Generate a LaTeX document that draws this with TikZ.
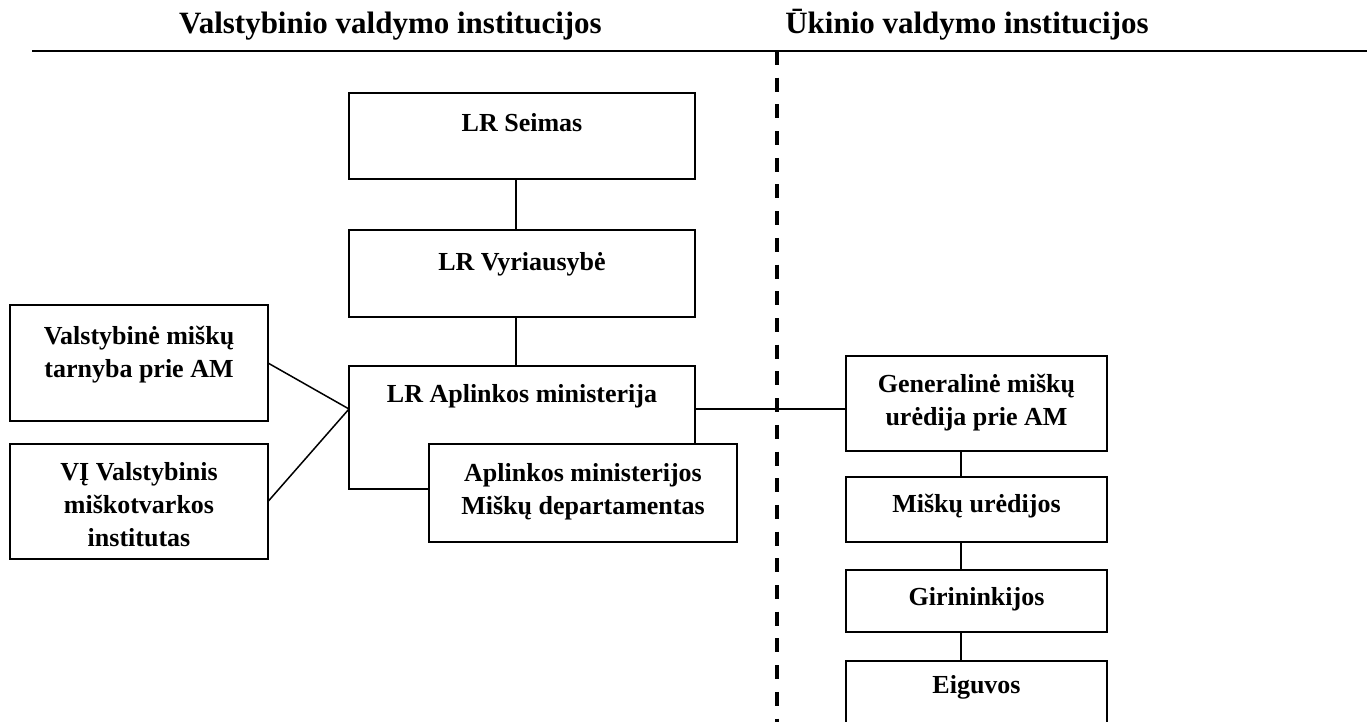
\documentclass[tikz,border=0pt]{standalone}
\usepackage{fontspec}
\setmainfont{Liberation Serif}
\begin{document}
\begin{tikzpicture}[x=1pt,y=-1pt,
  box/.style={draw, line width=2pt, fill=white, inner sep=0pt, outer sep=0pt},
  lbl/.style={font=\bfseries\fontsize{26}{33}\selectfont, align=center, anchor=base, inner sep=0pt},
  head/.style={font=\bfseries\fontsize{31}{36}\selectfont, anchor=base, inner sep=0pt},
  conn/.style={line width=1.5pt},
]
\useasboundingbox (0,0) rectangle (1367,722);
\clip (0,0) rectangle (1367,722);

% headers
\node[head] (h1) at (390.5,34) {Valstybinio valdymo institucijos};
\node[head] (h2) at (967,34) {Ūkinio valdymo institucijos};
\draw[line width=2pt] (32,50.7) -- (1367,50.7);
\draw[line width=3.3pt, dash pattern=on 14pt off 12.7pt] (777,51) -- (777,722);

% left column boxes
\node[box, minimum width=346, minimum height=86] (seimas) at (522,136) {};
\node[box, minimum width=346, minimum height=87] (vyr) at (522,273.5) {};
\node[box, minimum width=346, minimum height=123] (am) at (522,427.5) {};
\node[box, minimum width=308, minimum height=98] (dept) at (583,493) {};
\node[box, minimum width=258, minimum height=116] (vmt) at (139,363) {};
\node[box, minimum width=258, minimum height=115] (vmi) at (139,501.5) {};

% right column boxes
\node[box, minimum width=261, minimum height=95] (gmu) at (976.5,403.5) {};
\node[box, minimum width=261, minimum height=65] (mu) at (976.5,509.5) {};
\node[box, minimum width=261, minimum height=62] (gir) at (976.5,601) {};
\node[box, minimum width=261, minimum height=74] (eig) at (976.5,698) {};

% labels (multi-line: anchor is the baseline of the last line)
\node[lbl] (tseimas) at (522,132) {LR Seimas};
\node[lbl] (tvyr) at (522,270) {LR Vyriausybė};
\node[lbl] (tam) at (522,402) {LR Aplinkos ministerija};
\node[lbl] (tdept) at (583,514) {Aplinkos ministerijos\\Miškų departamentas};
\node[lbl] (tvmt) at (139,377) {Valstybinė miškų\\tarnyba prie AM};
\node[lbl] (tvmi) at (139,546) {VĮ Valstybinis\\miškotvarkos\\institutas};
\node[lbl] (tgmu) at (976.5,425) {Generalinė miškų\\urėdija prie AM};
\node[lbl] (tmu) at (976.5,512) {Miškų urėdijos};
\node[lbl] (tgir) at (976.5,605) {Girininkijos};
\node[lbl] (teig) at (976.5,693) {Eiguvos};

% connectors
\coordinate (lc) at (516,0);
\coordinate (rc) at (961,0);
\coordinate (hy) at (0,409);
\draw[conn] (seimas.south -| lc) -- (vyr.north -| lc);
\draw[conn] (vyr.south -| lc) -- (am.north -| lc);
\draw[conn] (am.east |- hy) -- (gmu.west |- hy);
\draw[conn] (vmt.east) -- (am.west |- hy);
\draw[conn] (vmi.east) -- (am.west |- hy);
\draw[conn] (gmu.south -| rc) -- (mu.north -| rc);
\draw[conn] (mu.south -| rc) -- (gir.north -| rc);
\draw[conn] (gir.south -| rc) -- (eig.north -| rc);
\end{tikzpicture}
\end{document}
